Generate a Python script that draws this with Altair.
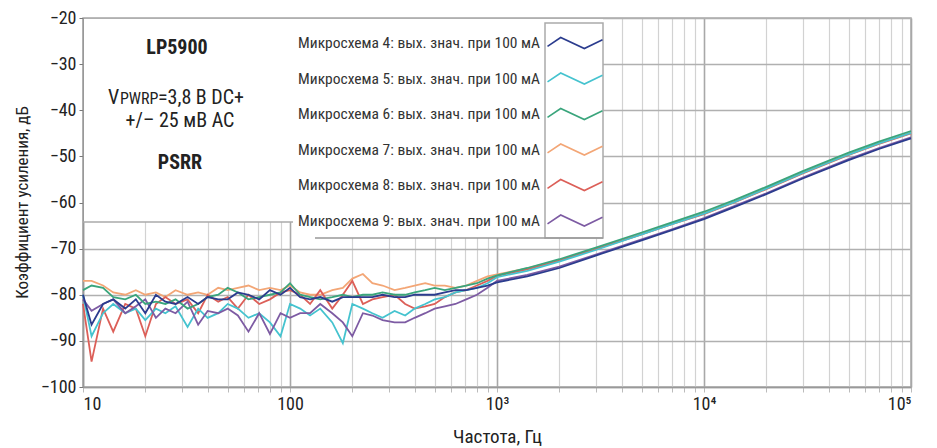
import altair as alt
import pandas as pd

FONT = "Liberation Sans Narrow, Roboto Condensed, DejaVu Sans Condensed, Arial Narrow, sans-serif"

freqs = [10, 11, 12.5, 14, 16, 18, 20, 22.5, 25, 28, 32, 36, 40, 45, 50, 56, 63, 71, 80, 90,
         100, 112, 125, 140, 160, 180, 200, 225, 250, 280, 320, 360, 400, 450, 500, 560, 630, 710, 800, 900,
         1000, 1400, 2000, 3000, 5000, 7000, 10000, 14000, 20000, 30000, 50000, 70000, 100000]

labels = [
    "Микросхема 4: вых. знач. при 100 мА",
    "Микросхема 5: вых. знач. при 100 мА",
    "Микросхема 6: вых. знач. при 100 мА",
    "Микросхема 7: вых. знач. при 100 мА",
    "Микросхема 8: вых. знач. при 100 мА",
    "Микросхема 9: вых. знач. при 100 мА",
]
colors = ["#2b3c8e", "#45c3cf", "#3aa57c", "#f3a676", "#dc5f58", "#7d5ba3"]

chip4 = [-80, -86.5, -82, -81, -83, -81, -84, -80, -81.5, -82,
         -80.5, -82, -80.5, -81, -81, -79.5, -80, -81, -79, -80,
         -78.5, -80.5, -81, -80.5, -81.5, -80.5, -80.5, -80.5, -80.5, -80,
         -80.5, -80.5, -80, -80, -80, -79.5, -79, -79, -78.5, -78,
         -77.3, -76.0, -74.2, -71.5, -68.2, -66.0, -63.6, -61.0, -58.2, -54.8, -50.8, -48.4, -46.1]
chip5 = [-80, -89, -84, -82, -84, -83, -85.5, -83, -84, -82.5,
         -87, -83, -85, -84, -82, -83, -85, -84, -86, -89,
         -82, -83, -84.5, -83, -86, -90.5, -82, -83, -84, -85,
         -83.5, -84.5, -83, -82, -81, -80.5, -79.5, -79, -78.5, -77.5,
         -76.2, -74.8, -72.8, -70.3, -66.9, -64.7, -62.4, -59.9, -57.0, -53.6, -49.6, -47.2, -44.9]
chip6 = [-79, -78, -78.5, -80.5, -81, -80, -82, -81.5, -82, -81,
         -83, -82, -80.5, -80, -78.5, -79.5, -81, -80.5, -80, -79.5,
         -77.5, -80, -80.5, -81, -80.5, -80, -80.5, -80, -80, -79.5,
         -80, -80, -79.5, -79, -78.5, -79, -78.5, -78, -77.5, -76.5,
         -75.8, -74.2, -72.3, -69.8, -66.5, -64.3, -62.0, -59.5, -56.6, -53.2, -49.2, -46.8, -44.5]
chip7 = [-77, -77, -78, -79.5, -80, -79, -80, -79.5, -80.5, -79,
         -80, -79.5, -80, -78.5, -79, -78.5, -78, -79, -78.5, -79,
         -78, -79.5, -80, -80, -79, -78.5, -76.5, -75.5, -77.5, -78,
         -79, -78.5, -78, -77.5, -78, -78, -78.5, -78, -77, -76,
         -75.6, -74.3, -72.5, -70.0, -66.8, -64.6, -62.3, -59.8, -56.9, -53.5, -49.5, -47.1, -44.8]
chip8 = [-82, -94.5, -83, -88, -82, -83, -89, -82, -80.5, -82,
         -81, -84, -80, -81.5, -80.5, -83, -80, -82, -81, -79.5,
         -79, -80, -82, -79, -83, -80, -77, -82, -81, -80.5,
         -80, -82, -83, -82.5, -82, -80.5, -79.5, -79, -78, -77,
         -75.9, -74.5, -72.6, -70.1, -66.9, -64.7, -62.5, -60.0, -57.1, -53.7, -49.7, -47.3, -45.0]
chip9 = [-81, -83.5, -82, -81, -84, -82.5, -81, -85, -83, -84,
         -81.5, -86.5, -83.5, -84, -83, -84.5, -88, -84, -88.5, -84,
         -85, -84, -84, -82, -84, -86, -89, -84, -84.5, -85.5,
         -86, -86, -85, -84, -83, -82.5, -82, -81, -80, -78.5,
         -77.0, -75.7, -73.9, -71.3, -68.0, -65.8, -63.4, -60.8, -58.0, -54.6, -50.6, -48.2, -45.9]

series = {labels[0]: chip4, labels[1]: chip5, labels[2]: chip6,
          labels[3]: chip7, labels[4]: chip8, labels[5]: chip9}
draw_order = [labels[3], labels[4], labels[1], labels[5], labels[2], labels[0]]

rows = []
for k, name in enumerate(draw_order):
    for f, v in zip(freqs, series[name]):
        rows.append({"f": f, "db": v, "s": name, "k": k})
df = pd.DataFrame(rows)

x_ticks = [10, 20, 30, 40, 50, 60, 70, 80, 90,
           100, 200, 300, 400, 500, 600, 700, 800, 900,
           1000, 2000, 3000, 4000, 5000, 6000, 7000, 8000, 9000,
           10000, 20000, 30000, 40000, 50000, 60000, 70000, 80000, 90000, 100000]
y_ticks = [-100, -90, -80, -70, -60, -50, -40, -30, -20]

major = "datum.value == 10 || datum.value == 100 || datum.value == 1000 || datum.value == 10000 || datum.value == 100000"
label_expr = ("datum.value == 10 ? '10' : datum.value == 100 ? '100' : datum.value == 1000 ? '10³' : "
              "datum.value == 10000 ? '10⁴' : datum.value == 100000 ? '10⁵' : ''")

zig = "M-2.5,0.3L-1.3,-0.5L0.85,0.5L2.5,-0.3"

lines = alt.Chart(df).mark_line(strokeWidth=1.8).encode(
    x=alt.X("f:Q", scale=alt.Scale(type="log", domain=[10, 100000], nice=False),
            axis=alt.Axis(values=x_ticks, labelExpr=label_expr, title="Частота, Гц",
                          gridColor={"condition": {"test": major, "value": "#a8a8a8"}, "value": "#d2d2d2"},
                          gridWidth={"condition": {"test": major, "value": 1.6}, "value": 1.2},
                          tickColor="#bbbbbb", tickSize=5, labelPadding=3,
                          titleY=49, titleBaseline="middle", titleFontSize=19)),
    y=alt.Y("db:Q", scale=alt.Scale(domain=[-100, -20], nice=False),
            axis=alt.Axis(values=y_ticks, title="Коэффициент усиления, дБ",
                          gridColor="#b0b0b0", gridWidth=1.5, tickSize=4, tickColor="#777",
                          labelPadding=3, titleX=-61, titleY=184, titleAngle=-90,
                          titleBaseline="middle", titleAlign="center", titleFontSize=17)),
    color=alt.Color("s:N", scale=alt.Scale(domain=labels, range=colors),
                    legend=alt.Legend(orient="none", legendX=480, legendY=13, title=None,
                                      symbolType=zig, symbolSize=484, symbolStrokeWidth=1.6,
                                      symbolFillColor="transparent",
                                      labelAlign="right", labelOffset={"expr": "-47"}, labelLimit=400,
                                      labelFont=FONT, labelFontSize=15.5, labelColor="#333333",
                                      rowPadding=14.5, padding=0)),
    detail="k:N",
)

one = alt.Data(values=[{"a": 1}])

box1 = alt.Chart(one).mark_rect(color="white").encode(
    x=alt.value(1), x2=alt.value(520), y=alt.value(1), y2=alt.value(204))
box2 = alt.Chart(one).mark_rect(color="white").encode(
    x=alt.value(210), x2=alt.value(520), y=alt.value(1), y2=alt.value(220))
swatch_box = alt.Chart(one).mark_rect(fill="white", stroke="#aaaaaa", strokeWidth=1.5).encode(
    x=alt.value(462), x2=alt.value(520), y=alt.value(5), y2=alt.value(220))
edge1 = alt.Chart(one).mark_rule(color="#aaaaaa", strokeWidth=1.5).encode(
    x=alt.value(0), x2=alt.value(210), y=alt.value(204))
edge2 = alt.Chart(one).mark_rule(color="#999999", strokeWidth=1.5).encode(
    x=alt.value(232), x2=alt.value(520), y=alt.value(220))

def txt(s, x, y, size, bold=False, align="center", baseline="middle"):
    return alt.Chart(one).mark_text(text=s, font=FONT, fontSize=size,
                                    fontWeight="bold" if bold else "normal",
                                    align=align, baseline=baseline, color="#222222").encode(
        x=alt.value(x), y=alt.value(y))

t1 = txt("LP5900", 94, 30, 20, bold=True)
t2a = txt("V", 25, 86, 20, align="left", baseline="alphabetic")
t2b = txt("PWRP", 37, 86, 16, align="left", baseline="alphabetic")
t2c = txt("=3,8 В DC+", 75, 86, 20, align="left", baseline="alphabetic")
t3 = txt("+/– 25 мВ АС", 97, 103, 20)
t4 = txt("PSRR", 97, 145, 20, bold=True)

chart = alt.layer(box1, box2, swatch_box, edge1, edge2, lines, t1, t2a, t2b, t2c, t3, t4).properties(
    width=828, height=369,
    autosize=alt.AutoSizeParams(type="none"),
    padding={"left": 75, "top": 10, "right": 10, "bottom": 60},
).configure_view(stroke="#aaaaaa", strokeWidth=1.5).configure_axis(
    labelFont=FONT, titleFont=FONT, labelFontSize=18, titleFontSize=17,
    labelColor="#222222", titleColor="#222222", titleFontWeight="normal",
    domainColor="#999999", domainWidth=1.5,
)

chart.save("out.html", embed_options={"renderer": "svg", "actions": False})
